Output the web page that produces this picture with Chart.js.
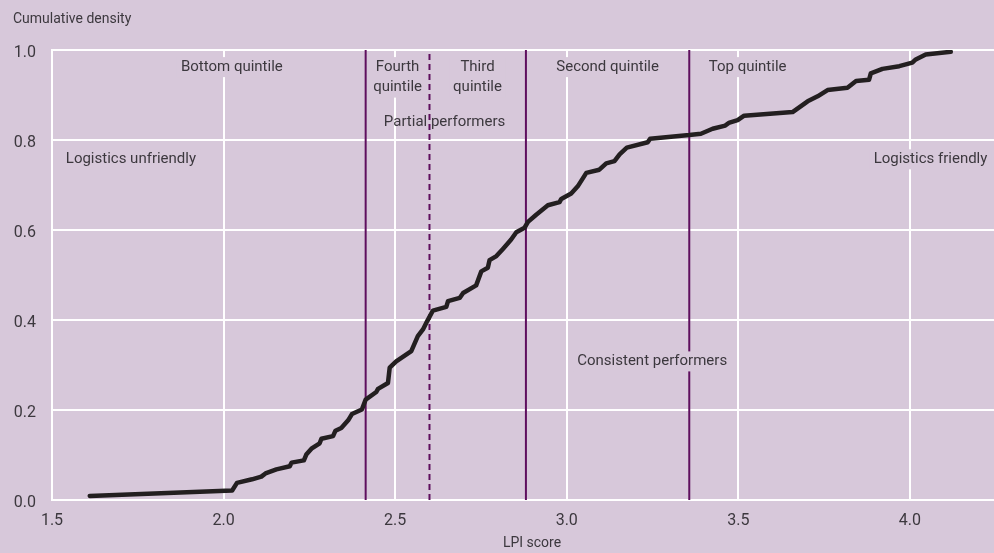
<!DOCTYPE html>
<html>
<head>
<meta charset="utf-8">
<script src="https://cdn.jsdelivr.net/npm/chart.js@4/dist/chart.umd.min.js"></script>
<style>
  html, body { margin: 0; padding: 0; background: #d7c8da; }
  #wrap { width: 994px; height: 553px; position: relative; }
</style>
</head>
<body>
<div id="wrap"><canvas id="myChart"></canvas></div>
<script>
// LPI scores (x) and cumulative density (y)
const lpiScores = [
  1.61, 2.025, 2.039, 2.083, 2.11, 2.122, 2.154, 2.193, 2.198, 2.234,
  2.241, 2.256, 2.28, 2.285, 2.319, 2.326, 2.343, 2.363, 2.374, 2.403,
  2.414, 2.445, 2.45, 2.479, 2.484, 2.503, 2.547, 2.566, 2.581, 2.593,
  2.61, 2.649, 2.654, 2.688, 2.698, 2.736, 2.751, 2.77, 2.775, 2.795,
  2.814, 2.838, 2.853, 2.877, 2.887, 2.911, 2.945, 2.979, 2.984, 3.013,
  3.032, 3.057, 3.095, 3.115, 3.139, 3.154, 3.175, 3.236, 3.243, 3.357,
  3.391, 3.425, 3.462, 3.472, 3.498, 3.517, 3.658, 3.702, 3.731, 3.76,
  3.818, 3.843, 3.881, 3.886, 3.92, 3.969, 4.007, 4.017, 4.046, 4.119
];
const cumulativeDensity = [
  0.009, 0.021, 0.038, 0.046, 0.052, 0.059, 0.068, 0.075, 0.083, 0.088,
  0.101, 0.114, 0.126, 0.136, 0.142, 0.154, 0.160, 0.177, 0.191, 0.201,
  0.223, 0.240, 0.247, 0.260, 0.294, 0.308, 0.331, 0.364, 0.379, 0.397,
  0.421, 0.429, 0.442, 0.449, 0.460, 0.477, 0.508, 0.516, 0.533, 0.542,
  0.558, 0.579, 0.595, 0.605, 0.618, 0.634, 0.655, 0.662, 0.669, 0.681,
  0.697, 0.727, 0.734, 0.748, 0.753, 0.768, 0.783, 0.795, 0.803, 0.811,
  0.814, 0.825, 0.832, 0.838, 0.844, 0.854, 0.862, 0.886, 0.897, 0.911,
  0.916, 0.931, 0.934, 0.948, 0.958, 0.964, 0.972, 0.979, 0.990, 0.996
];

// quintile cut-offs (the dashed one splits partial performers)
const quintileCuts = [2.414, 2.881, 3.357];
const partialCut = [2.6];

const xTicks = [1.5, 2.0, 2.5, 3.0, 3.5, 4.0];
const yTicks = [0, 0.2, 0.4, 0.6, 0.8, 1.0];

// text labels placed at data coordinates
const notes = [
  { lines: ['Bottom quintile'], x: 2.024, y: 0.962, box: true },
  { lines: ['Fourth', 'quintile'], x: 2.507, y: 0.962, box: true },
  { lines: ['Third', 'quintile'], x: 2.74, y: 0.962, box: true },
  { lines: ['Partial performers'], x: 2.644, y: 0.840, box: false },
  { lines: ['Second quintile'], x: 3.119, y: 0.962, box: true },
  { lines: ['Top quintile'], x: 3.527, y: 0.962, box: true },
  { lines: ['Logistics unfriendly'], x: 1.730, y: 0.757, box: true },
  { lines: ['Logistics friendly'], x: 4.060, y: 0.757, box: true },
  { lines: ['Consistent performers'], x: 3.249, y: 0.308, box: true }
];

const BG = '#d7c8da';
const TEXT = '#3c383e';
const PURPLE = '#5e0f5e';

const curve = lpiScores.map((x, i) => ({ x: x, y: cumulativeDensity[i] }));

function vline(x, dashed) {
  return {
    data: [{ x: x, y: 0 }, { x: x, y: 1 }],
    showLine: true,
    borderColor: PURPLE,
    borderWidth: 2,
    borderDash: dashed ? [6, 4] : [],
    pointRadius: 0
  };
}

const textPlugin = {
  id: 'textPlugin',
  afterDatasetsDraw(chart) {
    const ctx = chart.ctx;
    const xs = chart.scales.x, ys = chart.scales.y;
    ctx.save();
    ctx.font = '15px Roboto, "Liberation Sans", sans-serif';
    ctx.textAlign = 'center';
    ctx.textBaseline = 'middle';
    const lh = 20.5;
    notes.forEach(n => {
      const cx = xs.getPixelForValue(n.x);
      const cy = ys.getPixelForValue(n.y);
      if (n.box) {
        let w = 0;
        n.lines.forEach(l => { w = Math.max(w, ctx.measureText(l).width); });
        const h = (n.lines.length - 1) * lh + 20;
        ctx.fillStyle = BG;
        ctx.fillRect(cx - w / 2 - 4, cy - 10, w + 8, h);
      }
      ctx.fillStyle = TEXT;
      n.lines.forEach((l, i) => ctx.fillText(l, cx, cy + i * lh));
    });
    // axis titles
    ctx.font = '14px Roboto, "Liberation Sans", sans-serif';
    ctx.textAlign = 'left';
    ctx.fillText('Cumulative density', 13, 19);
    ctx.textAlign = 'center';
    ctx.fillText('LPI score', chart.chartArea.left + 480, 543);
    ctx.restore();
  }
};

const config = {
  type: 'scatter',
  data: {
    datasets: [
      {
        data: curve,
        showLine: true,
        borderColor: '#231f20',
        borderWidth: 4.5,
        borderJoinStyle: 'round',
        borderCapStyle: 'round',
        pointRadius: 0
      },
      ...quintileCuts.map(x => vline(x, false)),
      ...partialCut.map(x => vline(x, true))
    ]
  },
  options: {
    responsive: true,
    maintainAspectRatio: false,
    animation: false,
    layout: { padding: { top: 50, left: 0, right: 0, bottom: 0 } },
    plugins: {
      legend: { display: false },
      tooltip: { enabled: false }
    },
    scales: {
      x: {
        type: 'linear',
        min: 1.5,
        max: 4.245,
        afterBuildTicks: (axis) => { axis.ticks = xTicks.map(v => ({ value: v })); },
        afterFit: (axis) => { axis.height = 53; },
        ticks: {
          color: TEXT,
          padding: 11,
          font: { family: 'Roboto', size: 16 },
          callback: (v) => Number(v).toFixed(1)
        },
        grid: { color: '#ffffff', lineWidth: 2, drawTicks: false },
        border: { color: '#ffffff', width: 2 }
      },
      y: {
        type: 'linear',
        min: 0,
        max: 1,
        afterBuildTicks: (axis) => { axis.ticks = yTicks.map(v => ({ value: v })); },
        afterFit: (axis) => { axis.width = 52; },
        ticks: {
          color: TEXT,
          padding: 16,
          labelOffset: 3,
          font: { family: 'Roboto', size: 16 },
          callback: (v) => Number(v).toFixed(1)
        },
        grid: { color: '#ffffff', lineWidth: 2, drawTicks: false },
        border: { color: '#ffffff', width: 2 }
      }
    }
  },
  plugins: [textPlugin]
};

window.onload = function () {
  new Chart(document.getElementById('myChart'), config);
};
</script>
</body>
</html>
